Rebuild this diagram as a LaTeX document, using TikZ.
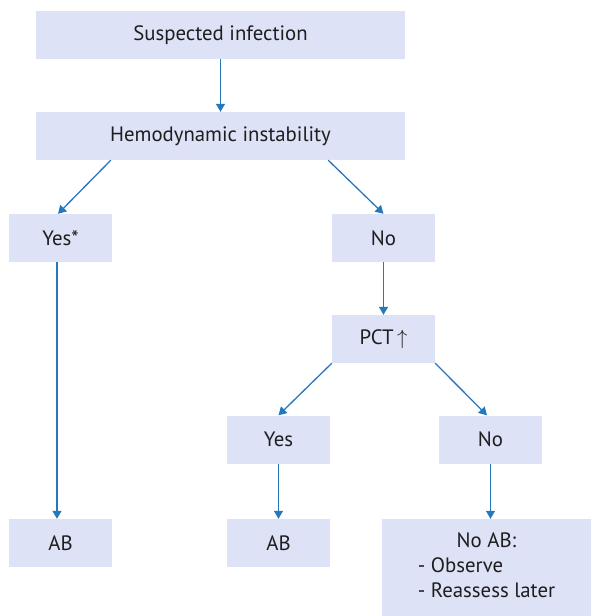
\documentclass[tikz,border=0pt]{standalone}
\usepackage{fontspec}
\setmainfont{PT Sans}
\usetikzlibrary{arrows.meta}
\definecolor{boxfill}{RGB}{221,226,246}
\definecolor{flowblue}{RGB}{38,120,190}
\definecolor{textdark}{RGB}{30,30,30}
\tikzset{
  flowbox/.style={rectangle, fill=boxfill, draw=none, inner sep=0pt,
    text=textdark, font=\fontsize{20.8}{25}\selectfont},
  wide/.style={flowbox, minimum width=369pt, minimum height=48pt},
  small/.style={flowbox, minimum width=103pt, minimum height=48pt},
  flowarrow/.style={draw=flowblue, line width=1.3pt,
    -{Triangle[length=8pt,width=9pt]}}
}
\begin{document}
\begin{tikzpicture}[x=1pt,y=-1pt]
  \useasboundingbox (0,0) rectangle (591,616);

  % boxes
  \node[wide]  (susp) at (220.5,35)  {Suspected infection};
  \node[wide]  (hemo) at (220.5,136) {Hemodynamic instability};
  \node[small] (yesL) at (60.5,238)  {Yes*};
  \node[small] (noR)  at (383.5,238) {No};
  \node[small] (pct)  at (383.5,339) {PCT\,$\uparrow$};
  \node[small] (yesM) at (278.5,439.5) {Yes};
  \node[small] (noM)  at (490.5,439.5) {No};
  \node[small] (abL)  at (60.5,543)  {AB};
  \node[small] (abM)  at (278.5,543) {AB};
  \node[flowbox, minimum width=209pt, minimum height=97pt] (noab) at (486.5,567.5)
    {\begin{tabular}{@{}l@{}}\multicolumn{1}{@{}c@{}}{No AB:}\\- Observe\\- Reassess later\end{tabular}};

  % connectors
  \draw[flowarrow] (susp) -- (hemo);
  \draw[flowarrow] ([xshift=75pt]hemo.south west) -- ([xshift=-2.5pt]yesL.north);
  \draw[flowarrow] ([xshift=-77pt]hemo.south east) -- (noR.north);
  \draw[flowarrow] (noR) -- (pct);
  \draw[flowarrow] (pct.south west) -- (yesM.north);
  \draw[flowarrow] (pct.south east) -- ([xshift=-3.5pt]noM.north);
  \draw[flowarrow] ([xshift=-3.5pt]yesL.south) -- ([xshift=-3.5pt]abL.north);
  \draw[flowarrow] (yesM) -- (abM);
  \draw[flowarrow] (noM.south) -- (noab.north -| noM.south);
\end{tikzpicture}
\end{document}
